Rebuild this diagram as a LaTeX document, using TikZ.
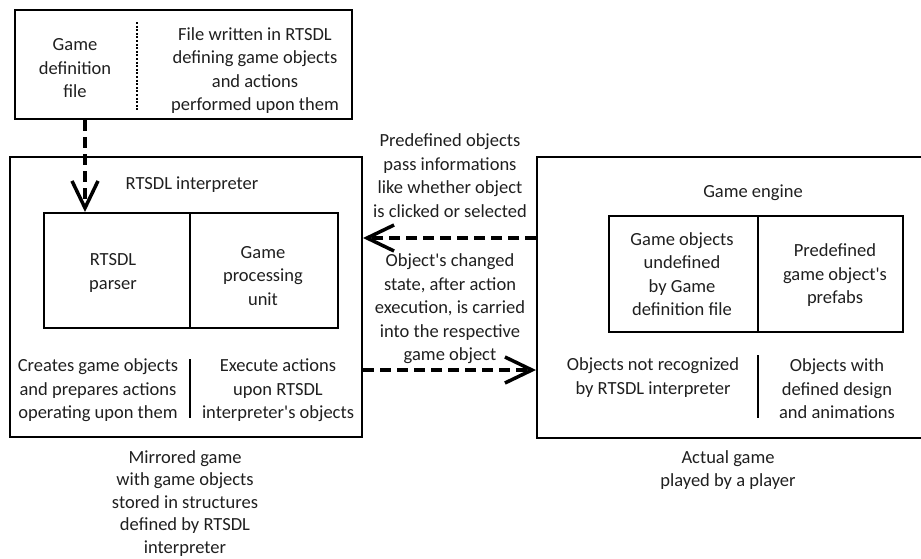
\documentclass[tikz,border=0pt]{standalone}
\usepackage{fontspec}
\setmainfont{Carlito}[Ligatures=TeXOff]
\usetikzlibrary{arrows.meta}

\begin{document}
\begin{tikzpicture}[x=1pt,y=-1pt,
  txt/.style={align=center,inner sep=0pt,yshift=-2.5pt,text=black!88,
    font=\fontsize{18.5}{23.5}\selectfont},
  frame/.style={draw,line width=2pt,inner sep=0pt},
  divider/.style={line width=2pt},
  flow/.style={line width=3.5pt,dash pattern=on 11pt off 6pt,
    -{Straight Barb[length=27pt,width=26pt,line width=3.5pt]}}
]
\useasboundingbox (0,0) rectangle (921,558);

% outer boxes
\node[frame,minimum width=337pt,minimum height=109pt] (deffile) at (183.5,64.5) {};
\node[frame,minimum width=352pt,minimum height=280pt] (interp) at (186,297) {};
\node[frame,minimum width=396pt,minimum height=281pt] (engine) at (735,297.5) {};

% inner boxes
\node[frame,minimum width=294pt,minimum height=115pt] (interpcore) at (191,270.5) {};
\node[frame,minimum width=294pt,minimum height=116pt] (enginecore) at (756,274) {};

% dividers
\draw[divider,dash pattern=on 2pt off 1.6pt] (137,22) -- (137,111);
\draw[divider] (interpcore.north -| 190,0) -- (interpcore.south -| 190,0);
\draw[divider] (enginecore.north -| 758,0) -- (enginecore.south -| 758,0);
\draw[divider] (190,359) -- (190,418);
\draw[divider] (758,355) -- (758,418);

% texts in the definition file box
\node[txt] (deftitle) at (75,66) {Game\\definition\\file};
\node[txt] (defdesc) at (255,68) {File written in RTSDL\\defining game objects\\and actions\\performed upon them};

% texts in the interpreter box
\node[txt] (interptitle) at (192,182) {RTSDL interpreter};
\node[txt] (parser) at (113,270.5) {RTSDL\\parser};
\node[txt] (gpu) at (263,273.5) {Game\\processing\\unit};
\node[txt] (creates) at (98,388) {Creates game objects\\and prepares actions\\operating upon them};
\node[txt] (execute) at (278,388) {Execute actions\\upon RTSDL\\interpreter's objects};

% texts in the engine box
\node[txt] (enginetitle) at (753,190) {Game engine};
\node[txt] (undefined) at (682,271.5) {Game objects\\undefined\\by Game\\definition file};
\node[txt] (prefabs) at (835,273) {Predefined\\game object's\\prefabs};
\node[txt] (notrecog) at (653,375) {Objects not recognized\\by RTSDL interpreter};
\node[txt] (design) at (837,386.5) {Objects with\\defined design\\and animations};

% connector labels
\node[txt] (passlabel) at (450,173) {Predefined objects\\pass informations\\like whether object\\is clicked or selected};
\node[txt] (statelabel) at (450,306.5) {Object's changed\\state, after action\\execution, is carried\\into the respective\\game object};

% captions
\node[txt,font=\fontsize{18.5}{22.5}\selectfont] (mirrored) at (185,501) {Mirrored game\\with game objects\\stored in structures\\defined by RTSDL\\interpreter};
\node[txt] (actual) at (728,467.5) {Actual game\\played by a player};

% connectors
\coordinate (feedx) at (85,0);
\draw[flow] (deffile.south -| feedx) -- (interpcore.north -| feedx);
\coordinate (passy) at (0,238);
\coordinate (statey) at (0,370);
\draw[flow] (engine.west |- passy) -- (interp.east |- passy);
\draw[flow] (interp.east |- statey) -- (engine.west |- statey);
\end{tikzpicture}
\end{document}
